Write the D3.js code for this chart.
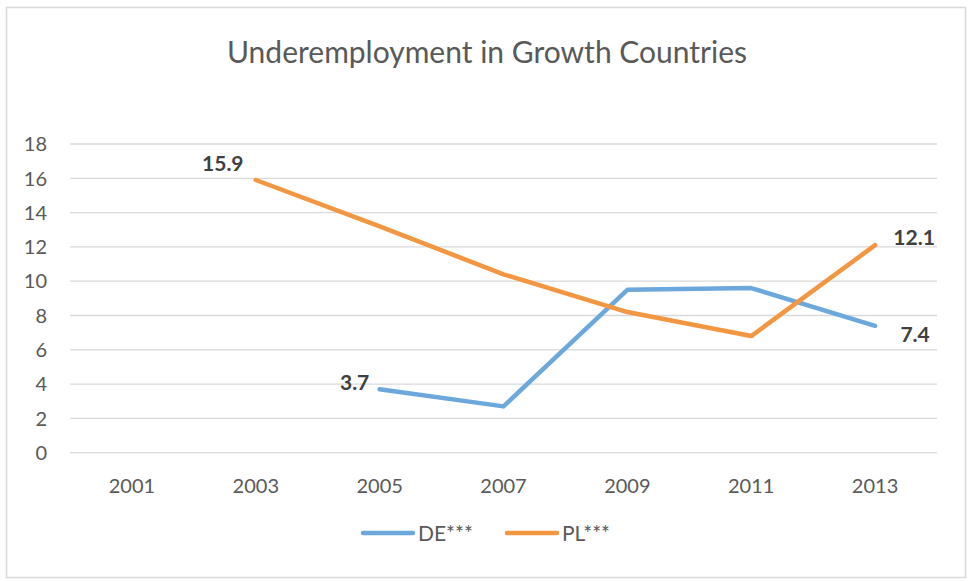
<!DOCTYPE html>
<html>
<head>
<meta charset="utf-8">
<script src="https://cdn.jsdelivr.net/npm/d3@7"></script>
<style>
body{margin:0;background:#fff;}
svg{display:block;}
</style>
</head>
<body>
<svg id="chart" width="968" height="581"></svg>
<script>
var years=["2001","2003","2005","2007","2009","2011","2013"];
var deValues=[null,null,3.7,2.7,9.5,9.6,7.4];
var plValues=[null,15.9,13.2,10.4,8.2,6.8,12.1];
var yTicks=[0,2,4,6,8,10,12,14,16,18];
var seriesNames=["DE***","PL***"];
var seriesColors=["#6CA8DC","#F39642"];

var font="Lato, 'Open Sans', sans-serif";
var svg=d3.select("#chart");

// outer frame
svg.append("rect")
.attr("x",6.5).attr("y",7.5)
.attr("width",959).attr("height",570)
.attr("fill","#fff")
.attr("stroke","#d9d9d9")
.attr("stroke-width",1.5);

var margin={left:70,right:31,top:144,bottom:128};
var width=968-margin.left-margin.right;
var height=581-margin.top-margin.bottom;

var x=d3.scaleBand().domain(years).range([margin.left,margin.left+width]);
var y=d3.scaleLinear().domain([0,18]).range([margin.top+height-0.3,margin.top]);

// gridlines
svg.append("g")
.selectAll("line")
.data(yTicks)
.join("line")
.attr("x1",margin.left).attr("x2",margin.left+width)
.attr("y1",d=>y(d)).attr("y2",d=>y(d))
.attr("stroke","#d9d9d9")
.attr("stroke-width",1.3);

// y labels
svg.append("g")
.selectAll("text")
.data(yTicks)
.join("text")
.attr("x",47)
.attr("y",d=>y(d))
.attr("dy","0.36em")
.attr("text-anchor","end")
.style("font-family",font)
.style("font-size","20px")
.style("fill","#595959")
.text(d=>d);

// x labels
svg.append("g")
.selectAll("text")
.data(years)
.join("text")
.attr("x",d=>x(d)+x.bandwidth()/2)
.attr("y",493)
.attr("text-anchor","middle")
.style("font-family",font)
.style("font-size","20px")
.style("fill","#595959")
.text(d=>d);

// title
svg.append("text")
.attr("x",487)
.attr("y",63)
.attr("text-anchor","middle")
.style("font-family",font)
.style("font-size","30px")
.style("fill","#595959")
.text("Underemployment in Growth Countries");

var line=d3.line()
.defined(d=>d.v!=null)
.x(d=>x(d.year)+x.bandwidth()/2)
.y(d=>y(d.v));

var allSeries=[deValues,plValues];
allSeries.forEach(function(vals,i){
  var pts=years.map((yr,j)=>({year:yr,v:vals[j]}));
  svg.append("path")
  .datum(pts)
  .attr("d",line)
  .attr("fill","none")
  .attr("stroke",seriesColors[i])
  .attr("stroke-width",4.5)
  .attr("stroke-linejoin","round")
  .attr("stroke-linecap","round");
});

// data labels: first and last point of each series
var labels=[
  {series:0,idx:2,dx:-25,dy:-7},
  {series:0,idx:6,dx:40,dy:9},
  {series:1,idx:1,dx:-33,dy:-17},
  {series:1,idx:6,dx:39,dy:-8}
];
svg.append("g")
.selectAll("text")
.data(labels)
.join("text")
.attr("x",d=>x(years[d.idx])+x.bandwidth()/2+d.dx)
.attr("y",d=>y(allSeries[d.series][d.idx])+d.dy)
.attr("dy","0.36em")
.attr("text-anchor","middle")
.style("font-family",font)
.style("font-size","21px")
.style("font-weight","bold")
.style("fill","#404040")
.text(d=>allSeries[d.series][d.idx].toFixed(1));

// legend
var legendX=[361,505];
var lg=svg.append("g")
.selectAll("g")
.data(seriesNames)
.join("g")
.attr("transform",(d,i)=>"translate("+legendX[i]+",533)");
lg.append("line")
.attr("x1",2).attr("x2",52)
.attr("y1",0).attr("y2",0)
.attr("stroke",(d,i)=>seriesColors[i])
.attr("stroke-width",4.5)
.attr("stroke-linecap","round");
lg.append("text")
.attr("x",57)
.attr("y",0)
.attr("dy","0.36em")
.style("font-family",font)
.style("font-size","21px")
.style("fill","#595959")
.text(d=>d);
</script>
</body>
</html>
